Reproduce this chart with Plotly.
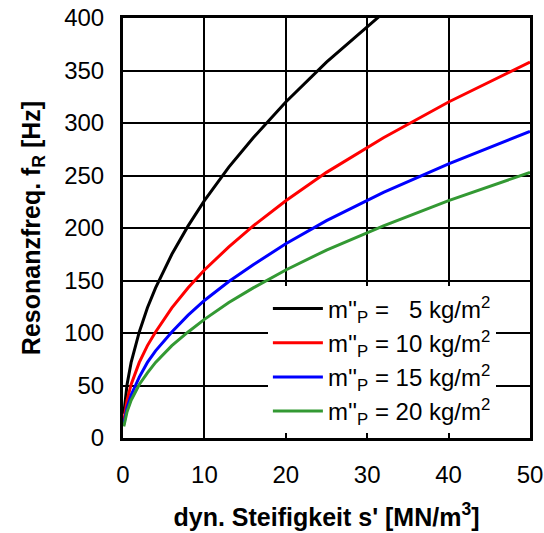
import plotly.graph_objects as go

s_values = [0.1, 0.5, 1, 2, 3, 4, 6, 8, 10, 13, 16, 20, 25, 32, 40, 50]
f_m5 = [23, 51, 72, 101, 124, 143, 175, 202, 226, 258, 286, 320, 358, 405, 453, 506]
f_m10 = [16, 36, 51, 72, 88, 101, 124, 143, 160, 182, 202, 226, 253, 286, 320, 358]
f_m15 = [13, 29, 41, 58, 72, 83, 101, 117, 131, 149, 165, 185, 207, 234, 261, 292]
f_m20 = [11, 25, 36, 51, 62, 72, 88, 101, 113, 129, 143, 160, 179, 202, 226, 253]

series_names = [
    "m''<sub>P</sub> = \u00a0\u00a05 kg/m<sup>2</sup>",
    "m''<sub>P</sub> = 10 kg/m<sup>2</sup>",
    "m''<sub>P</sub> = 15 kg/m<sup>2</sup>",
    "m''<sub>P</sub> = 20 kg/m<sup>2</sup>",
]
series_values = [f_m5, f_m10, f_m15, f_m20]
colors = ["#000000", "#ff0000", "#0000ff", "#339933"]

x_ticks = [0, 10, 20, 30, 40, 50]
y_ticks = [0, 50, 100, 150, 200, 250, 300, 350, 400]

FONT = "Arial, Liberation Sans, sans-serif"

fig = go.Figure()
for name, vals, c in zip(series_names, series_values, colors):
    fig.add_trace(go.Scatter(x=s_values, y=vals, mode="lines", name=name,
                             line=dict(color=c, width=3)))

fig.update_layout(
    width=544, height=533,
    margin=dict(l=123, r=14, t=18, b=95),
    paper_bgcolor="white", plot_bgcolor="white",
    font=dict(family=FONT, size=24, color="black"),
    showlegend=True,
    legend=dict(x=0.356, y=0.361, xanchor="left", yanchor="top",
                bgcolor="white", borderwidth=0,
                font=dict(size=24, family=FONT),
                itemwidth=50, tracegroupgap=0),
)
fig.update_xaxes(range=[0, 50], tickvals=x_ticks, showgrid=True,
                 gridcolor="black", gridwidth=1.5,
                 showline=True, linecolor="black", linewidth=3, mirror=True,
                 ticks="outside", ticklen=13, tickcolor="rgba(0,0,0,0)",
                 zeroline=False, automargin=False, ticklabeloverflow="allow",
                 tickfont=dict(size=24),
                 title=dict(text="<b>dyn. Steifigkeit s' [MN/m<sup>3</sup>]</b>",
                            font=dict(size=25), standoff=22))
fig.update_yaxes(range=[0, 400], tickvals=y_ticks, showgrid=True,
                 gridcolor="black", gridwidth=1.5,
                 showline=True, linecolor="black", linewidth=3, mirror=True,
                 ticks="outside", ticklen=11, tickcolor="rgba(0,0,0,0)",
                 zeroline=False, automargin=False, ticklabeloverflow="allow",
                 tickfont=dict(size=24),
                 title=dict(text="<b>Resonanzfreq. f<sub>R</sub> [Hz]</b>",
                            font=dict(size=25), standoff=17))

fig.write_html("out.html",
               config={"displayModeBar": False},
               post_script="document.body.style.margin='0';document.body.style.overflow='hidden';")
